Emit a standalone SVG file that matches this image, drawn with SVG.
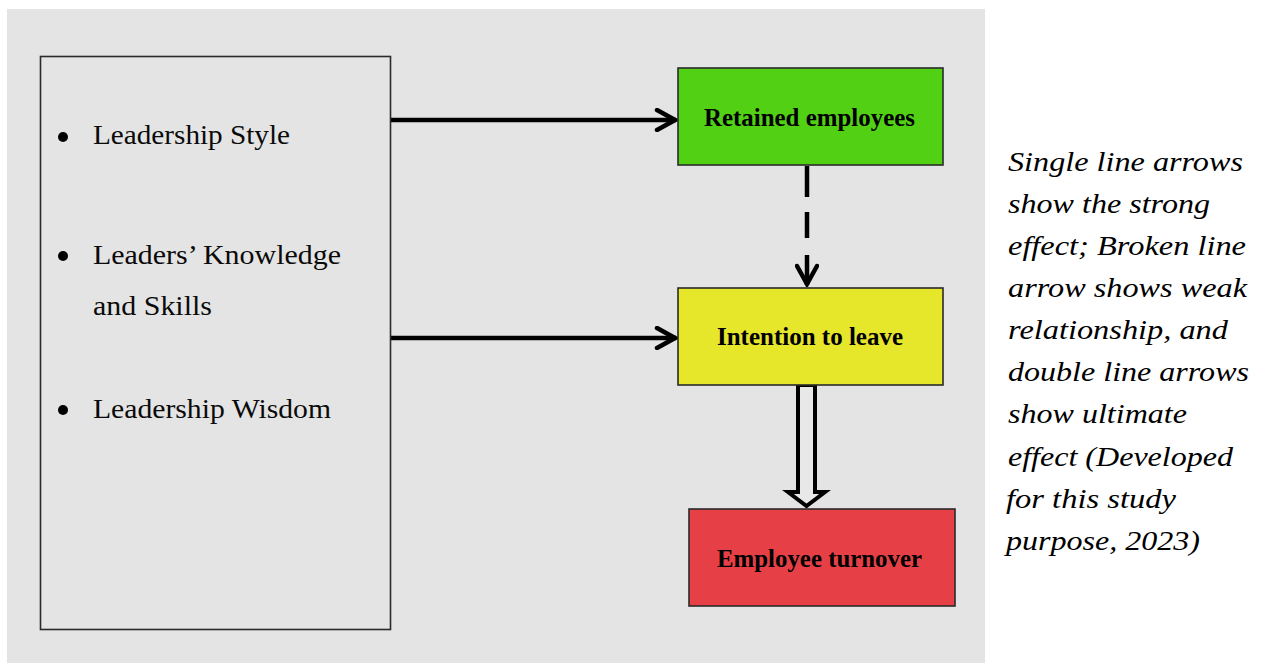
<svg xmlns="http://www.w3.org/2000/svg" width="1261" height="663" viewBox="0 0 1261 663">
<defs>
<style>
.box{stroke:#2a2a2a;stroke-width:1.6}
.lt{font-family:"Liberation Serif","Times New Roman",serif;font-size:27px;fill:#0a0a0a}
.bt{font-family:"Liberation Serif","Times New Roman",serif;font-size:25px;font-weight:bold;fill:#000}
.it{font-family:"Liberation Serif","Times New Roman",serif;font-size:28px;font-style:italic;fill:#000}
.conn{stroke:#000;stroke-width:4.5;fill:none}
</style>
<marker id="vhead" viewBox="0 0 24 24" refX="22" refY="12" markerUnits="userSpaceOnUse" markerWidth="24" markerHeight="24" orient="auto">
<path d="M3,2 L21,12 L3,22" fill="none" stroke="#000" stroke-width="4.5" stroke-linecap="round" stroke-linejoin="miter"/>
</marker>
</defs>
<rect x="0" y="0" width="1261" height="663" fill="#ffffff"/>
<rect x="7" y="9" width="978" height="654" fill="#e4e4e4"/>

<g id="connectors">
<line class="conn" x1="391" y1="120" x2="676" y2="120" marker-end="url(#vhead)"/>
<line class="conn" x1="391" y1="338" x2="676" y2="338" marker-end="url(#vhead)"/>
<line class="conn" x1="807" y1="166" x2="807" y2="285" stroke-dasharray="31,15,26,17,40" marker-end="url(#vhead)"/>
<path d="M798,385 L815,385 L815,492 L825,492 L806.5,506 L788,492 L798,492 Z" fill="#e8e8e8" stroke="#000" stroke-width="4" stroke-linejoin="miter"/>
</g>

<g id="factors">
<rect class="box" x="40.5" y="56.5" width="350" height="573" fill="#e4e4e4"/>
<circle cx="63" cy="137" r="5" fill="#000"/>
<circle cx="63" cy="256" r="5" fill="#000"/>
<circle cx="63" cy="410" r="5" fill="#000"/>
<text class="lt" x="93" y="144" textLength="197" lengthAdjust="spacingAndGlyphs">Leadership Style</text>
<text class="lt" x="93" y="264" textLength="248" lengthAdjust="spacingAndGlyphs">Leaders’ Knowledge</text>
<text class="lt" x="93" y="315" textLength="119" lengthAdjust="spacingAndGlyphs">and Skills</text>
<text class="lt" x="93" y="418" textLength="238" lengthAdjust="spacingAndGlyphs">Leadership Wisdom</text>
</g>

<g id="retained">
<rect class="box" x="678" y="68" width="265" height="97" fill="#52d114"/>
<text class="bt" x="704" y="126" textLength="211" lengthAdjust="spacingAndGlyphs">Retained employees</text>
</g>

<g id="intention">
<rect class="box" x="678" y="288" width="265" height="97" fill="#e6e62a"/>
<text class="bt" x="717" y="345" textLength="186" lengthAdjust="spacingAndGlyphs">Intention to leave</text>
</g>

<g id="turnover">
<rect class="box" x="689" y="509" width="266" height="97" fill="#e64046"/>
<text class="bt" x="717" y="567" textLength="205" lengthAdjust="spacingAndGlyphs">Employee turnover</text>
</g>

<g id="note">
<text class="it" x="1008" y="171" textLength="235" lengthAdjust="spacingAndGlyphs">Single line arrows</text>
<text class="it" x="1008" y="213" textLength="202" lengthAdjust="spacingAndGlyphs">show the strong</text>
<text class="it" x="1008" y="255" textLength="238" lengthAdjust="spacingAndGlyphs">effect; Broken line</text>
<text class="it" x="1008" y="297" textLength="239" lengthAdjust="spacingAndGlyphs">arrow shows weak</text>
<text class="it" x="1008" y="339" textLength="220" lengthAdjust="spacingAndGlyphs">relationship, and</text>
<text class="it" x="1008" y="381" textLength="241" lengthAdjust="spacingAndGlyphs">double line arrows</text>
<text class="it" x="1008" y="423" textLength="179" lengthAdjust="spacingAndGlyphs">show ultimate</text>
<text class="it" x="1008" y="466" textLength="225" lengthAdjust="spacingAndGlyphs">effect (Developed</text>
<text class="it" x="1006" y="508" textLength="170" lengthAdjust="spacingAndGlyphs">for this study</text>
<text class="it" x="1006" y="550" textLength="194" lengthAdjust="spacingAndGlyphs">purpose, 2023)</text>
</g>
</svg>
